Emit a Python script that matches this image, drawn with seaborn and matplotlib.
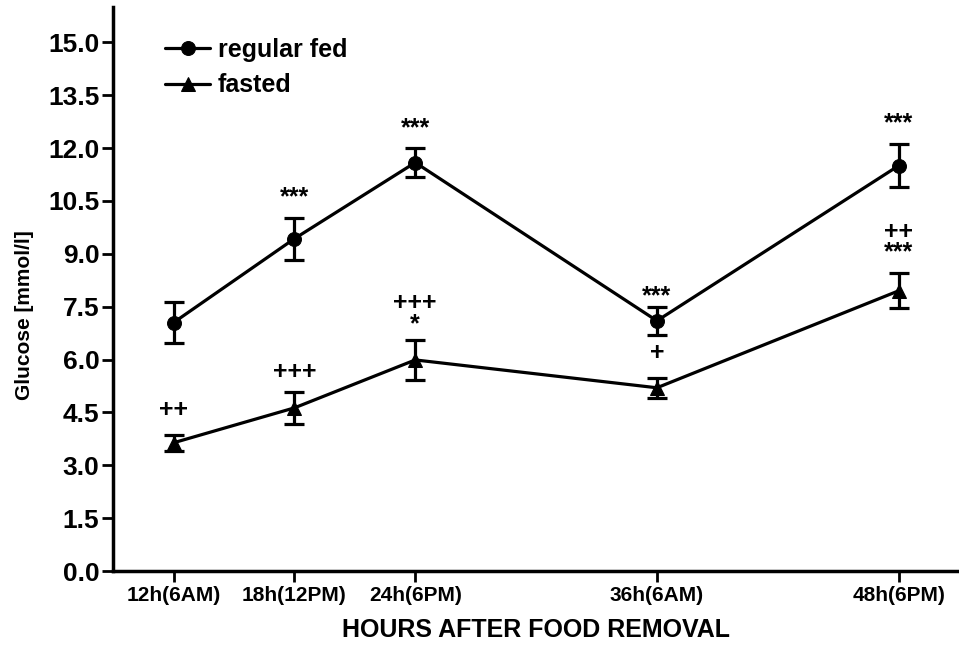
import matplotlib
matplotlib.use("Agg")
import matplotlib.pyplot as plt
import seaborn as sns
import pandas as pd

sns.set_style("ticks", {"axes.edgecolor": "black", "text.color": "black",
                        "axes.labelcolor": "black", "xtick.color": "black",
                        "ytick.color": "black"})
plt.rcParams['font.family'] = ['Liberation Sans', 'DejaVu Sans']
plt.rcParams['font.weight'] = 'bold'

hours = [12, 18, 24, 36, 48]
tick_labels = ["12h(6AM)", "18h(12PM)", "24h(6PM)", "36h(6AM)", "48h(6PM)"]
fed_mean = [7.05, 9.43, 11.59, 7.10, 11.50]
fed_sem = [0.57, 0.60, 0.40, 0.40, 0.61]
fasted_mean = [3.64, 4.63, 5.99, 5.20, 7.95]
fasted_sem = [0.22, 0.45, 0.56, 0.28, 0.50]

fed_marks = ["", "***", "***", "***", "***"]
fed_mark_y = [0, 10.74, 12.70, 7.93, 12.84]
fasted_marks = ["++", "+++", "+++\n*", "+", "++\n***"]
fasted_mark_y = [4.57, 5.65, 7.42, 6.19, 9.45]

df = pd.DataFrame({
    "hours": hours * 2,
    "glucose": fed_mean + fasted_mean,
    "group": ["regular fed"] * 5 + ["fasted"] * 5,
})

fig = plt.figure(figsize=(9.59, 6.46), dpi=100)
ax = fig.add_axes([0.118, 0.116, 0.882, 0.873])

sns.lineplot(data=df, x="hours", y="glucose", hue="group", style="group",
             markers={"regular fed": "o", "fasted": "^"}, dashes=False,
             palette={"regular fed": "black", "fasted": "black"},
             linewidth=2.3, markersize=10, markeredgecolor="black", ax=ax)

ax.errorbar(hours, fed_mean, yerr=fed_sem, fmt="none", ecolor="black",
            elinewidth=2.3, capsize=7, capthick=2.3)
ax.errorbar(hours, fasted_mean, yerr=fasted_sem, fmt="none", ecolor="black",
            elinewidth=2.3, capsize=7, capthick=2.3)

for x, m, y in zip(hours, fed_marks, fed_mark_y):
    if m:
        ax.text(x, y - 0.13, m, ha="center", va="center", fontsize=18,
                fontweight="bold", color="black")
for x, m, y in zip(hours, fasted_marks, fasted_mark_y):
    off = 0.12 if "\n" in m else 0.0
    ax.text(x, y - off, m, ha="center", va="center", fontsize=18, fontweight="bold",
            linespacing=0.85, multialignment="center", color="black")

ax.set_xlim(9, 51)
ax.set_ylim(0, 16)
yt = [0, 1.5, 3, 4.5, 6, 7.5, 9, 10.5, 12, 13.5, 15]
ax.set_yticks(yt)
ax.set_yticklabels([f"{v:.1f}" for v in yt], fontsize=19, fontweight="bold")
ax.set_xticks(hours)
ax.set_xticklabels(tick_labels, fontsize=15, fontweight="bold")
ax.tick_params(axis="both", width=2, length=8, direction="out", pad=2, colors="black")
ax.tick_params(axis="x", pad=3)

ax.set_xlabel("HOURS AFTER FOOD REMOVAL", fontsize=18, fontweight="bold", labelpad=9,
              color="black")
ax.set_ylabel("Glucose [mmol/l]", fontsize=15, fontweight="bold", color="black")
ax.yaxis.set_label_coords(-0.094, 0.454)

for s in ["top", "right"]:
    ax.spines[s].set_visible(False)
for s in ["left", "bottom"]:
    ax.spines[s].set_linewidth(2.5)
    ax.spines[s].set_color("black")

leg = ax.legend(loc="upper left", bbox_to_anchor=(0.035, 0.985), frameon=False,
                prop={"size": 18, "weight": "bold"},
                handlelength=1.8, handletextpad=0.3, labelspacing=0.45)
for t in leg.get_texts():
    t.set_color("black")

fig.savefig("out.png", dpi=100)
